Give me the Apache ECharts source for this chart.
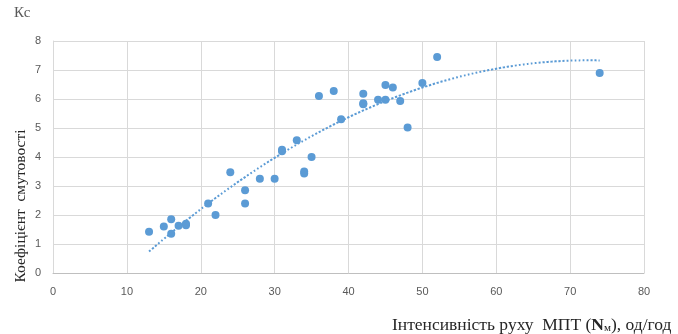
<!DOCTYPE html>
<html>
<head>
<meta charset="utf-8">
<script src="https://cdn.jsdelivr.net/npm/echarts@6/dist/echarts.min.js"></script>
<style>
  html, body { margin: 0; padding: 0; background: #fff; }
  #chart { width: 678px; height: 334px; }
</style>
</head>
<body>
<div id="chart"></div>
<script>
// Traffic intensity (vehicles per hour) and measured bunching coefficient
const intensity = [13, 15, 16, 16, 17, 18, 18, 21, 22, 24, 26, 26, 28, 30, 31, 31, 33, 34, 34, 35,
                   36, 38, 39, 42, 42, 42, 44, 45, 45, 46, 47, 48, 50, 52, 74];
const coefficient = [1.42, 1.60, 1.85, 1.35, 1.63, 1.70, 1.65, 2.40, 2.00, 3.47, 2.85, 2.40, 3.25, 3.25, 4.20, 4.25, 4.58, 3.50, 3.43, 4.00,
                     6.10, 6.28, 5.30, 6.18, 5.85, 5.82, 5.97, 5.97, 6.48, 6.40, 5.93, 5.02, 6.55, 7.45, 6.90];
const xTicks = { min: 0, max: 80, step: 10 };
const yTicks = { min: 0, max: 8, step: 1 };

const points = intensity.map((x, i) => [x, coefficient[i]]);

// Second-order least-squares trend of the measurements
function quadFit(xs, ys) {
  let S = [0, 0, 0, 0, 0], T = [0, 0, 0];
  xs.forEach((x, i) => {
    let p = 1;
    for (let k = 0; k < 5; k++) { S[k] += p; if (k < 3) T[k] += p * ys[i]; p *= x; }
  });
  const A = [[S[0], S[1], S[2], T[0]], [S[1], S[2], S[3], T[1]], [S[2], S[3], S[4], T[2]]];
  for (let c = 0; c < 3; c++) {
    for (let r = c + 1; r < 3; r++) {
      const f = A[r][c] / A[c][c];
      for (let k = c; k < 4; k++) A[r][k] -= f * A[c][k];
    }
  }
  const z = [0, 0, 0];
  for (let r = 2; r >= 0; r--) {
    let s = A[r][3];
    for (let k = r + 1; k < 3; k++) s -= A[r][k] * z[k];
    z[r] = s / A[r][r];
  }
  return z;
}
const coef = quadFit(intensity, coefficient);
const xLo = Math.min(...intensity), xHi = Math.max(...intensity);
const trend = [];
for (let x = xLo; x <= xHi; x += 0.5) trend.push([x, coef[0] + coef[1] * x + coef[2] * x * x]);

const chart = echarts.init(document.getElementById('chart'), null, { renderer: 'canvas' });
const tickFont = { color: '#595959', fontFamily: 'Liberation Sans, Arial, sans-serif', fontSize: 11 };
const serif = 'Liberation Serif, Times New Roman, serif';

chart.setOption({
  animation: false,
  grid: { left: 53, right: 34, top: 41, bottom: 61 },
  xAxis: {
    type: 'value', min: xTicks.min, max: xTicks.max, interval: xTicks.step,
    axisLine: { show: true, lineStyle: { color: '#bfbfbf' } },
    axisTick: { show: false },
    splitLine: { show: true, lineStyle: { color: '#d9d9d9', width: 1 } },
    axisLabel: Object.assign({ margin: 13 }, tickFont)
  },
  yAxis: {
    type: 'value', min: yTicks.min, max: yTicks.max, interval: yTicks.step,
    axisLine: { show: true, lineStyle: { color: '#d9d9d9' } },
    axisTick: { show: false },
    splitLine: { show: true, lineStyle: { color: '#d9d9d9', width: 1 } },
    axisLabel: Object.assign({ margin: 12 }, tickFont)
  },
  graphic: [
    { type: 'text', left: 14, top: 6, style: { text: 'Кс', font: '15px ' + serif, fill: '#595959' } },
    { type: 'text', x: 21, y: 206, rotation: Math.PI / 2,
      style: { text: 'Коефіцієнт  смутовості', font: '15.5px ' + serif, fill: '#262626',
               textAlign: 'center', textVerticalAlign: 'middle' } },
    { type: 'text', x: 392, y: 325,
      style: { rich: { t: { font: '17.5px ' + serif, fill: '#262626' }, b: { font: 'bold 17.5px ' + serif, fill: '#262626' },
                        s: { font: '11px ' + serif, fill: '#262626', verticalAlign: 'bottom' } },
               text: '{t|Інтенсивність руху  МПТ (}{b|N}{s|м}{t|), од/год}',
               textVerticalAlign: 'middle', textAlign: 'left' } }
  ],
  series: [
    {
      type: 'line', data: trend, showSymbol: false, smooth: true, silent: true,
      lineStyle: { color: '#5b9bd5', width: 2, type: [2, 2] }, z: 1
    },
    {
      type: 'scatter', data: points, symbolSize: 8,
      itemStyle: { color: '#5b9bd5', opacity: 1 }, z: 2
    }
  ]
});
</script>
</body>
</html>
